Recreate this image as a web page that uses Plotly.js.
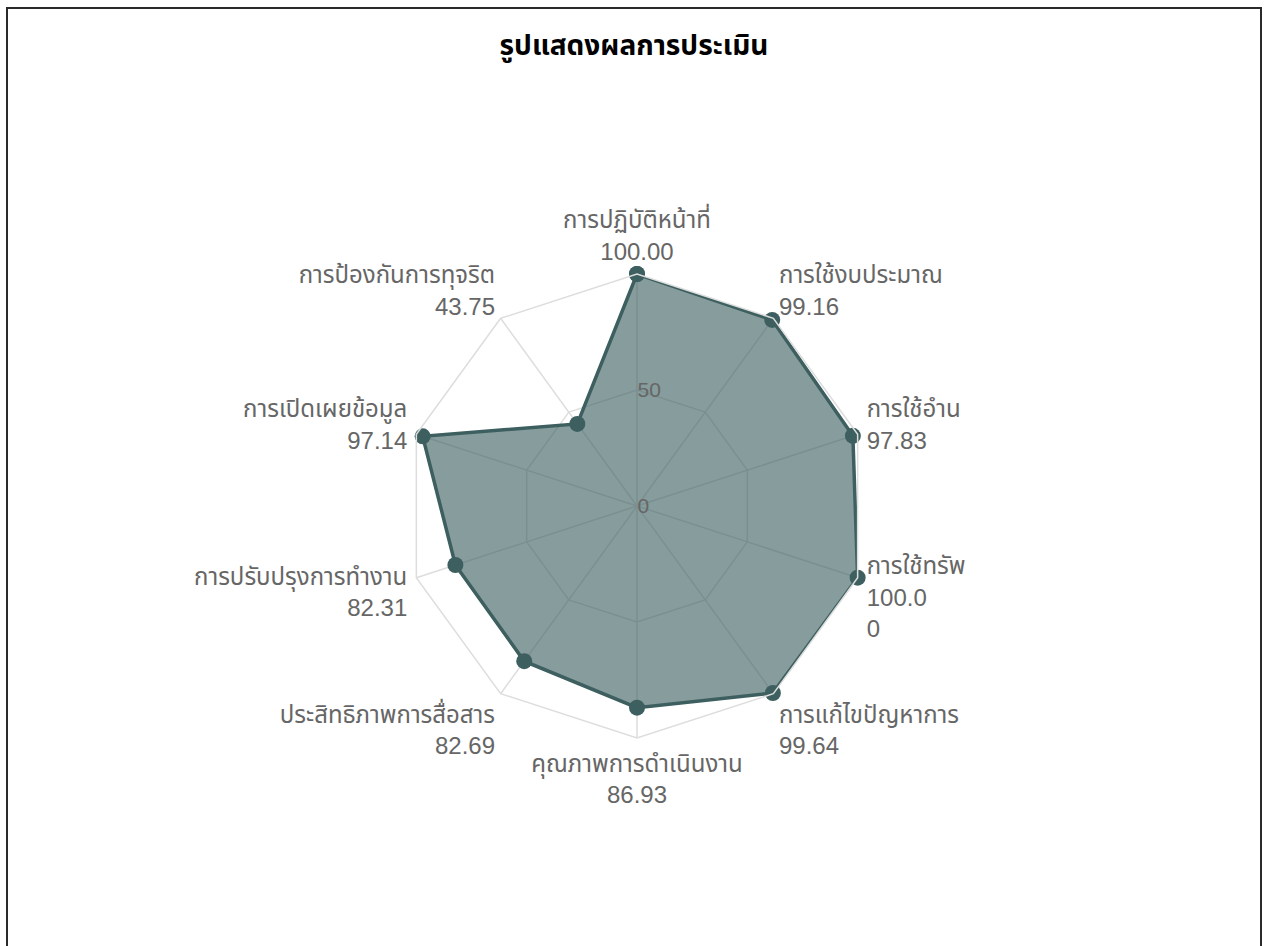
<!DOCTYPE html>
<html>
<head>
<meta charset="utf-8">
<script src="https://cdn.plot.ly/plotly-3.0.1.min.js"></script>
<style>
  html, body { margin: 0; padding: 0; background: #fff; overflow: hidden; }
  #frame { position: absolute; left: 6px; top: 7px; width: 1256px; height: 980px;
           border: 2px solid #2a2a2a; box-sizing: border-box; }
  #chart { position: absolute; left: 0; top: 0; width: 1268px; height: 946px; }
</style>
</head>
<body>
<div id="chart"></div>
<div id="frame"></div>
<script>
const titleText = 'รูปแสดงผลการประเมิน';
const categories = [
  'การปฏิบัติหน้าที่',
  'การใช้งบประมาณ',
  'การใช้อำน',
  'การใช้ทรัพ',
  'การแก้ไขปัญหาการ',
  'คุณภาพการดำเนินงาน',
  'ประสิทธิภาพการสื่อสาร',
  'การปรับปรุงการทำงาน',
  'การเปิดเผยข้อมูล',
  'การป้องกันการทุจริต'
];
const scores = [100.00, 99.16, 97.83, 100.00, 99.64, 86.93, 82.69, 82.31, 97.14, 43.75];
const valueLabels = ['100.00', '99.16', '97.83', '100.0<br>0', '99.64', '86.93', '82.69', '82.31', '97.14', '43.75'];
const radialTicks = [0, 50];

const tickText = categories.map((c, i) => c + '<br>' + valueLabels[i]);

const trace = {
  type: 'scatterpolar',
  r: scores.concat([scores[0]]),
  theta: categories.concat([categories[0]]),
  mode: 'lines+markers',
  fill: 'toself',
  fillcolor: 'rgba(62,95,95,0.62)',
  line: { color: '#3e5f5f', width: 3.5 },
  marker: { color: '#3e5f5f', size: 16 },
  hoverinfo: 'skip'
};

const thaiFam = '"Noto Sans Thai", "Noto Sans Thai UI", Tahoma, "Liberation Sans", Arial, sans-serif';
const labelFam = '"Liberation Sans", Arial, "Noto Sans Thai", Tahoma, sans-serif';

const layout = {
  width: 1268, height: 946,
  margin: { l: 0, r: 0, t: 0, b: 0 },
  paper_bgcolor: '#ffffff',
  showlegend: false,
  title: {
    text: '<b>' + titleText + '</b>',
    x: 0.5, xanchor: 'center',
    y: 1 - 45 / 946, yanchor: 'middle',
    font: { family: thaiFam, size: 28, color: '#000000' }
  },
  polar: {
    domain: { x: [405 / 1268, 869 / 1268], y: [208 / 946, 672 / 946] },
    bgcolor: '#ffffff',
    gridshape: 'linear',
    radialaxis: {
      range: [0, 100],
      tickvals: radialTicks,
      ticktext: radialTicks.map(String),
      angle: 90,
      tickangle: 90,
      showline: false,
      ticks: '',
      gridcolor: '#dddddd',
      gridwidth: 1.5,
      tickfont: { family: labelFam, size: 21, color: '#666666' }
    },
    angularaxis: {
      direction: 'clockwise',
      rotation: 90,
      tickmode: 'array',
      tickvals: categories,
      ticktext: tickText,
      ticks: 'outside',
      ticklen: 4,
      tickcolor: 'rgba(0,0,0,0)',
      showline: true,
      linecolor: '#dddddd',
      linewidth: 1.5,
      gridcolor: '#dddddd',
      gridwidth: 1.5,
      tickfont: { family: labelFam, size: 24, color: '#666666' }
    }
  }
};

Plotly.newPlot('chart', [trace], layout, { displayModeBar: false, staticPlot: true });
</script>
</body>
</html>
